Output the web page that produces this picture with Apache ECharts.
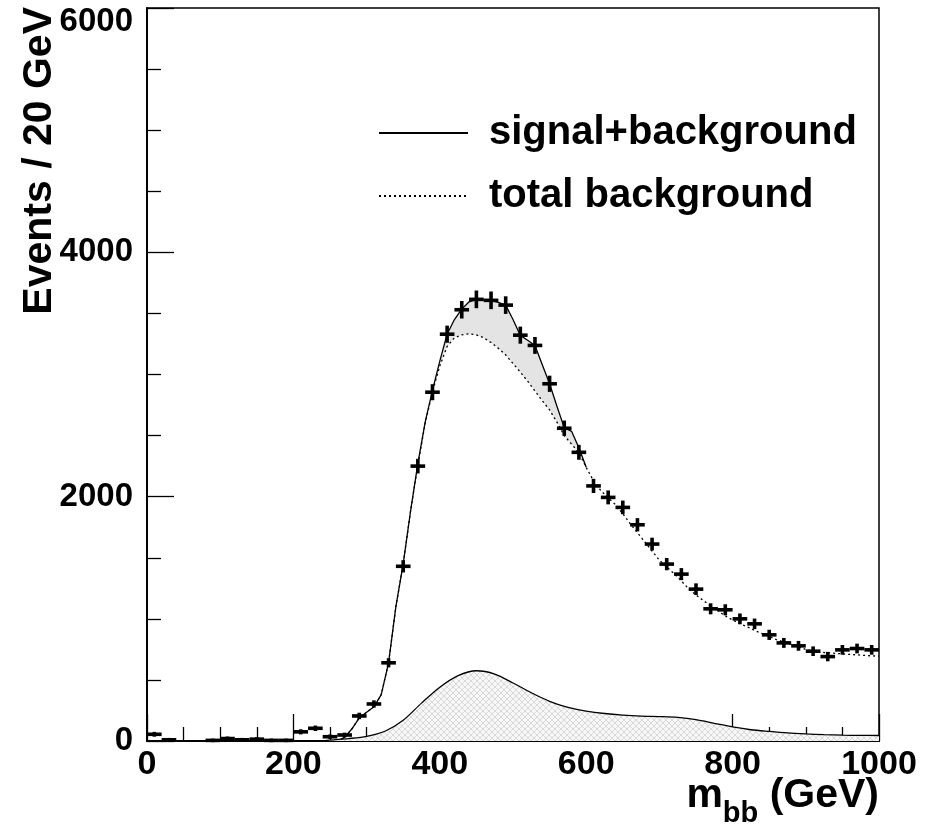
<!DOCTYPE html>
<html><head><meta charset="utf-8">
<script src="https://cdn.jsdelivr.net/npm/echarts@6/dist/echarts.min.js"></script>
<style>html,body{margin:0;padding:0;background:#fff}#c{width:928px;height:828px}</style>
</head><body><div id="c"></div>
<script>
const FONT = 'Liberation Sans, Arial, Helvetica, sans-serif';

// data histogram (20 GeV bins)
const binCenters = [10,30,50,70,90,110,130,150,170,190,210,230,250,270,290,310,330,350,370,390,410,430,450,470,490,510,530,550,570,590,610,630,650,670,690,710,730,750,770,790,810,830,850,870,890,910,930,950,970,990];
const counts = [55,10,0,0,5,20,10,15,5,5,75,104,35,49,205,303,640,1430,2250,2855,3330,3530,3615,3607,3568,3322,3238,2924,2560,2363,2088,1994,1912,1770,1612,1448,1366,1243,1082,1074,1000,959,869,803,779,735,691,746,757,746];

// total background curve
const bkgX = [265,270,280,290,300,310,320,330,340,350,360,370,380,390,400,410,420,430,440,450,460,470,480,490,500,510,520,530,540,550,560,570,580,590,600,610,620,630,640,650,660,670,680,690,700,710,720,730,740,750,760,770,780,790,800,810,820,830,840,850,860,870,880,890,900,910,920,930,940,950,960,970,980,990,1000];
const bkgY = [15,30,100,190,235,280,380,640,1100,1450,1880,2260,2600,2860,3070,3230,3300,3325,3333,3325,3300,3262,3215,3160,3090,3020,2945,2865,2785,2710,2610,2500,2430,2360,2240,2130,2050,1990,1935,1860,1780,1705,1630,1555,1480,1425,1370,1310,1245,1195,1150,1105,1065,1025,990,960,935,905,880,855,830,810,790,770,750,735,728,722,718,713,709,705,701,697,694];

// signal + background curve
const sbX = [265,270,280,290,300,310,320,330,340,350,360,370,380,390,400,410,420,430,440,450,460,470,480,490,500,510,520,530,540,550,560,570,580,590,600];
const sbY = [15,30,100,190,235,280,380,640,1100,1450,1880,2270,2610,2870,3110,3330,3450,3535,3595,3612,3610,3605,3590,3568,3450,3320,3280,3238,3080,2924,2740,2565,2535,2400,2240];

// signal-like component (hatched)
const sigX = [240,250,275,300,325,350,375,400,425,450,475,500,525,550,575,600,625,650,675,700,725,750,775,800,825,850,875,900,925,950,975,1000];
const sigY = [0,8,20,38,80,170,310,440,535,575,548,475,395,325,275,245,225,212,204,200,193,175,145,115,92,78,66,58,52,48,46,45];

const xTickLabels = ['0','200','400','600','800','1000'];
const yTickLabels = ['0','2000','4000','6000'];
const legendNames = ['signal+background','total background'];

const pairs = (xs, ys) => xs.map((x, i) => [x, ys[i]]);

// crosshatch pattern
const pc = document.createElement('canvas');
pc.width = 6; pc.height = 6;
const g = pc.getContext('2d');
g.fillStyle = '#f7f7f7'; g.fillRect(0, 0, 6, 6);
g.strokeStyle = '#c4c4c4'; g.lineWidth = 0.6;
g.beginPath(); g.moveTo(0, 0); g.lineTo(6, 6); g.moveTo(6, 0); g.lineTo(0, 6); g.stroke();

const chart = echarts.init(document.getElementById('c'), null, {renderer: 'canvas'});

const option = {
  animation: false,
  backgroundColor: '#fff',
  grid: {left: 147, right: 49, top: 8, bottom: 87, show: true, borderColor: '#000', borderWidth: 1.5, backgroundColor: 'transparent', outerBoundsMode: 'none'},
  xAxis: {
    type: 'value', min: 0, max: 1000, interval: 200,
    axisLine: {show: true, onZero: false, lineStyle: {color: '#000', width: 2}},
    axisTick: {show: true, inside: true, length: 27, lineStyle: {color: '#000', width: 1.3}},
    minorTick: {show: true, splitNumber: 4, length: 14, lineStyle: {color: '#000', width: 1.3}},
    splitLine: {show: false}, minorSplitLine: {show: false},
    axisLabel: {show: true, margin: 7, color: '#000', fontFamily: FONT, fontWeight: 'bold', fontSize: 34,
      showMinLabel: true, showMaxLabel: true, hideOverlap: false,
      formatter: v => xTickLabels[Math.round(v / 200)]}
  },
  yAxis: {
    type: 'value', min: 0, max: 6000, interval: 2000,
    axisLine: {show: true, onZero: false, lineStyle: {color: '#000', width: 2}},
    axisTick: {show: true, inside: true, length: 27, lineStyle: {color: '#000', width: 1.3}},
    minorTick: {show: true, splitNumber: 4, length: 14, lineStyle: {color: '#000', width: 1.3}},
    splitLine: {show: false}, minorSplitLine: {show: false},
    axisLabel: {show: true, margin: 14, color: '#000', fontFamily: FONT, fontWeight: 'bold', fontSize: 33,
      showMinLabel: true, showMaxLabel: true, hideOverlap: false,
      formatter: v => { const t = yTickLabels[Math.round(v / 2000)]; return v === 6000 ? '{t|' + t + '}' : t; },
      rich: {t: {fontFamily: FONT, fontWeight: 'bold', fontSize: 33, color: '#000', padding: [27, 0, 0, 0]}}}
  },
  legend: {
    data: legendNames, orient: 'vertical', left: 378, top: 106, padding: 0,
    itemWidth: 89, itemHeight: 14, itemGap: 9, selectedMode: false,
    itemStyle: {opacity: 0},
    textStyle: {fontFamily: FONT, fontWeight: 'bold', fontSize: 40, color: '#000', lineHeight: 40, padding: [0, 0, 14, 16]}
  },
  graphic: [
    {type: 'text', x: 40, y: 7, rotation: Math.PI / 2, z: 10,
      style: {text: 'Events / 20 GeV', font: 'bold 41px ' + FONT, fill: '#000', align: 'right', verticalAlign: 'middle'}},
    {type: 'text', x: 879, y: 828, z: 10,
      style: {text: '{m|m}{s|bb}{m| (GeV)}', align: 'right', verticalAlign: 'bottom', fill: '#000',
        rich: {
          m: {font: 'bold 41px ' + FONT, fill: '#000', lineHeight: 41, padding: [0, 0, 12, 0], verticalAlign: 'bottom'},
          s: {font: 'bold 29px ' + FONT, fill: '#000', lineHeight: 29, verticalAlign: 'bottom'}
        }}}
  ],
  series: [
    {
      name: 'signal component', type: 'line', data: pairs(sigX, sigY), symbol: 'none', smooth: 0.3, z: 2,
      lineStyle: {color: '#000', width: 1.3},
      areaStyle: {color: {image: pc, repeat: 'repeat'}, opacity: 1},
      silent: true
    },
    {
      name: 'excess', type: 'custom', data: [[0, 0]], z: 3, silent: true,
      renderItem: (params, api) => {
        const pts = [];
        const bmap = {};
        bkgX.forEach((x, i) => { bmap[x] = bkgY[i]; });
        const xs = sbX.filter(x => x >= 360);
        xs.forEach(x => { pts.push(api.coord([x, sbY[sbX.indexOf(x)]])); });
        xs.slice().reverse().forEach(x => { pts.push(api.coord([x, bmap[x]])); });
        return {type: 'polygon', shape: {points: pts}, style: {fill: '#e4e4e4', stroke: null}};
      }
    },
    {
      name: 'total background', type: 'line', data: pairs(bkgX, bkgY), symbol: 'none', z: 4,
      color: '#000', lineStyle: {color: '#000', width: 1.3, type: [2, 3]}
    },
    {
      name: 'signal+background', type: 'line', data: pairs(sbX, sbY), symbol: 'none', z: 5,
      color: '#000', lineStyle: {color: '#000', width: 1.3, type: 'solid'}
    },
    {
      name: 'data', type: 'custom', z: 6, silent: true,
      data: pairs(binCenters, counts),
      renderItem: (params, api) => {
        const x = api.value(0), y = api.value(1);
        if (!y) return null;
        const e = Math.sqrt(y);
        const a = api.coord([x - 10, y]), b = api.coord([x + 10, y]);
        const c = api.coord([x, y - e]), d = api.coord([x, y + e]);
        const st = {stroke: '#000', lineWidth: 3.6};
        return {type: 'group', children: [
          {type: 'line', shape: {x1: a[0], y1: a[1], x2: b[0], y2: b[1]}, style: st},
          {type: 'line', shape: {x1: c[0], y1: c[1] + 1.5, x2: d[0], y2: d[1] - 1.5}, style: st}
        ]};
      }
    }
  ]
};
chart.setOption(option);
</script>
</body></html>
